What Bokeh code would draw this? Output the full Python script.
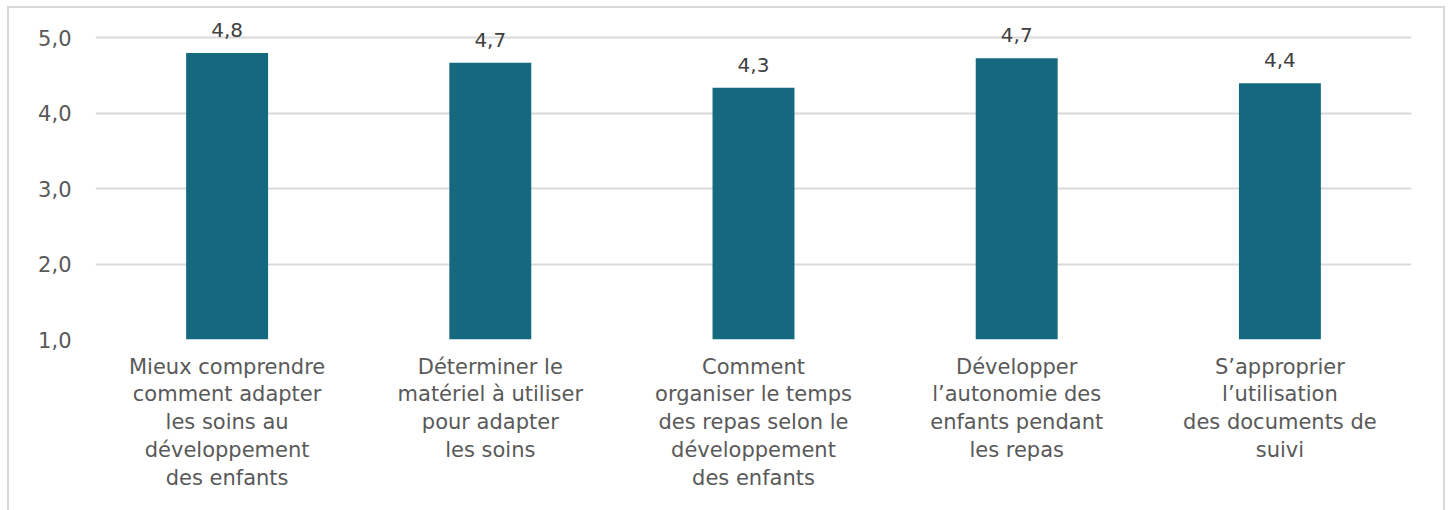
from bokeh.plotting import figure
from bokeh.models import FixedTicker, ColumnDataSource, Range1d
from bokeh.core.properties import value
from bokeh.embed import file_html
from bokeh.resources import INLINE

categories = [
    "Mieux comprendre\ncomment adapter\nles soins au\ndéveloppement\ndes enfants",
    "Déterminer le\nmatériel à utiliser\npour adapter\nles soins",
    "Comment\norganiser le temps\ndes repas selon le\ndéveloppement\ndes enfants",
    "Développer\nl’autonomie des\nenfants pendant\nles repas",
    "S’approprier\nl’utilisation\ndes documents de\nsuivi",
]
scores = [4.80, 4.67, 4.34, 4.73, 4.40]
y_ticks = [1, 2, 3, 4, 5]
y_tick_labels = ["1,0", "2,0", "3,0", "4,0", "5,0"]

FONT = "DejaVu Sans"
TEXT_COLOR = "#595959"
BAR_COLOR = "#15697f"
GRID_COLOR = "#d9d9d9"

xs = [i + 0.5 for i in range(len(categories))]
labels = [f"{v:.1f}".replace(".", ",") for v in scores]
src = ColumnDataSource(dict(x=xs, top=scores, lab=labels))

W, H = 1438, 504
p = figure(width=W, height=H, output_backend="svg", toolbar_location=None,
           x_range=Range1d(0, len(categories)), y_range=Range1d(1, 5.338),
           min_border_left=86, min_border_right=36, min_border_top=4, min_border_bottom=173,
           styles={"margin-left": "7px", "margin-top": "6px",
                   "border-left": "2px solid #d9d9d9", "border-right": "2px solid #d9d9d9",
                   "border-top": "2px solid #d9d9d9"})
p.outline_line_color = None
p.background_fill_color = "white"
p.border_fill_color = "white"

p.vbar(x="x", top="top", bottom=1, width=82 / 263.4, source=src,
       fill_color=BAR_COLOR, line_color=None)
p.text(x="x", y="top", text="lab", source=src, text_align="center",
       text_baseline="bottom", y_offset=-16, text_font=value(FONT),
       text_font_size="20px", text_color="#404040")

p.xgrid.grid_line_color = None
p.ygrid.ticker = FixedTicker(ticks=y_ticks)
p.ygrid.grid_line_color = GRID_COLOR
p.ygrid.grid_line_width = 2

p.yaxis.ticker = FixedTicker(ticks=y_ticks)
p.yaxis.major_label_overrides = {t: l for t, l in zip(y_ticks, y_tick_labels)}
p.xaxis.ticker = FixedTicker(ticks=xs)
p.xaxis.major_label_overrides = {x: c for x, c in zip(xs, categories)}

for ax in (p.xaxis, p.yaxis):
    ax.axis_line_color = None
    ax.major_tick_line_color = None
    ax.minor_tick_line_color = None
    ax.major_label_text_font = FONT
    ax.major_label_text_font_size = "21px"
    ax.major_label_text_color = TEXT_COLOR
p.yaxis.major_label_standoff = 18
p.xaxis.major_label_standoff = 9
p.xaxis.major_label_text_line_height = 1.16

open("out.html", "w").write(file_html(p, INLINE))
